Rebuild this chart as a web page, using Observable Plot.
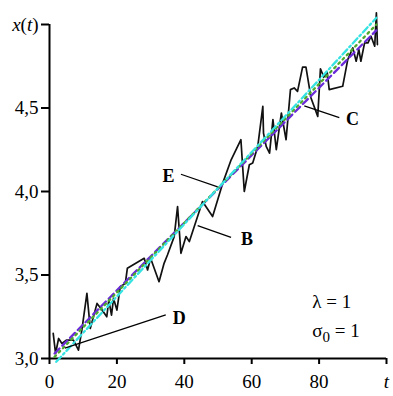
<!DOCTYPE html>
<html>
<head>
<meta charset="utf-8">
<script src="https://cdn.jsdelivr.net/npm/d3@7"></script>
<script src="https://cdn.jsdelivr.net/npm/@observablehq/plot@0.6"></script>
<style>
  html, body { margin: 0; padding: 0; background: #fff; }
  svg text { font-family: "Liberation Serif", "Times New Roman", serif !important; }
</style>
</head>
<body>
<script>
// ---- data ----
const noisyT = [1.1, 1.8, 2.7, 3.7, 5.0, 7.1, 8.6, 9.6, 11.1, 12.1, 14.1, 15.6, 17.0, 17.6, 18.4, 19.0, 20.0, 21.0, 22.5, 23.1, 25.6, 28.1, 29.1, 30.0, 32.5, 34.0, 35.0, 37.0, 38.0, 39.0, 40.5, 41.5, 45.4, 48.4, 51.4, 53.9, 56.8, 57.8, 59.3, 60.3, 61.8, 63.3, 63.5, 64.3, 65.3, 66.3, 67.3, 68.8, 70.2, 71.5, 72.6, 73.6, 75.1, 76.1, 77.6, 79.6, 80.4, 81.4, 82.4, 83.0, 87.0, 88.5, 90.0, 91.0, 91.8, 92.4, 93.5, 94.5, 95.4, 96.5, 97.0, 97.3];
const noisyX = [3.15, 3.03, 3.12, 3.09, 3.11, 3.11, 3.05, 3.17, 3.39, 3.18, 3.33, 3.29, 3.25, 3.35, 3.26, 3.36, 3.29, 3.43, 3.45, 3.54, 3.57, 3.60, 3.53, 3.60, 3.46, 3.57, 3.62, 3.73, 3.91, 3.63, 3.73, 3.70, 3.94, 3.85, 4.05, 4.19, 4.31, 4.00, 4.16, 4.17, 4.27, 4.51, 4.35, 4.27, 4.23, 4.43, 4.25, 4.47, 4.31, 4.61, 4.62, 4.60, 4.745, 4.745, 4.56, 4.45, 4.735, 4.685, 4.715, 4.61, 4.63, 4.79, 4.86, 4.78, 4.85, 4.78, 4.89, 4.89, 4.93, 4.87, 5.07, 4.88];

const purpleT = [1.5, 25, 50, 75, 97];
const purpleX = [3.03, 3.51, 4.015, 4.52, 4.965];
const greenT = [1.5, 25, 50, 75, 97];
const greenX = [3.01, 3.50, 4.02, 4.54, 5.00];
const cyanT = [2, 25, 50, 75, 97];
const cyanX = [2.98, 3.48, 4.02, 4.56, 5.04];

const xTicks = [0, 20, 40, 60, 80, 100];
const xTickLabels = ["0", "20", "40", "60", "80", "t"];
const yTicks = [3, 3.5, 4, 4.5, 5];
const yTickLabels = ["3,0", "3,5", "4,0", "4,5", "x(t)"];

const labelNames = ["E", "B", "C", "D"];
const labelT = [33.5, 56.8, 88.0, 36.6];
const labelX = [4.09, 3.715, 4.43, 3.24];
const leaderT1 = [39.0, 43.96, 75.6, 4.55];
const leaderX1 = [4.103, 3.796, 4.513, 3.062];
const leaderT2 = [49.9, 53.87, 86.0, 34.5];
const leaderX2 = [4.028, 3.725, 4.442, 3.261];

const paramTexts = ["λ = 1", "σ0 = 1"];
const paramT = [78, 78];
const paramX = [3.34, 3.163];

// ---- tables ----
const noisy = noisyT.map((t, i) => ({t, x: noisyX[i]}));
const purple = purpleT.map((t, i) => ({t, x: purpleX[i]}));
const green = greenT.map((t, i) => ({t, x: greenX[i]}));
const cyan = cyanT.map((t, i) => ({t, x: cyanX[i]}));
const labels = labelNames.map((s, i) => ({s, t: labelT[i], x: labelX[i]}));
const leaders = labelNames.map((s, i) => ({x1: leaderT1[i], y1: leaderX1[i], x2: leaderT2[i], y2: leaderX2[i]}));
const params = paramTexts.map((s, i) => ({s, t: paramT[i], x: paramX[i]}));

const serif = "Liberation Serif, Times New Roman, serif";

const chart = Plot.plot({
  width: 393,
  height: 396,
  marginLeft: 49,
  marginRight: 7,
  marginTop: 24,
  marginBottom: 38,
  style: {fontFamily: serif, fontSize: "19px", color: "#000", background: "#fff"},
  x: {domain: [0, 100]},
  y: {domain: [3, 5]},
  marks: [
    Plot.axisX({ticks: xTicks, tickFormat: (d) => xTickLabels[xTicks.indexOf(d)], tickSize: 6, tickPadding: 10, strokeWidth: 2, label: null, fontSize: 19}),
    Plot.axisY({ticks: yTicks, tickFormat: (d) => yTickLabels[yTicks.indexOf(d)], tickSize: 8, tickPadding: 3, strokeWidth: 2, label: null, fontSize: 19}),
    Plot.ruleX([0], {stroke: "#000", strokeWidth: 2}),
    Plot.ruleY([3], {stroke: "#000", strokeWidth: 2}),
    Plot.line(noisy, {x: "t", y: "x", stroke: "#111", strokeWidth: 1.7}),
    Plot.line(purple, {x: "t", y: "x", stroke: "#6a2bd8", strokeWidth: 2.3, strokeDasharray: "7,4"}),
    Plot.line(green, {x: "t", y: "x", stroke: "#4ea82e", strokeWidth: 2.3, strokeDasharray: "2,4"}),
    Plot.line(cyan, {x: "t", y: "x", stroke: "#35e3e3", strokeWidth: 2.3, strokeDasharray: "7,3,2,3"}),
    Plot.link(leaders, {x1: "x1", y1: "y1", x2: "x2", y2: "y2", stroke: "#000", strokeWidth: 1.2}),
    Plot.text(labels, {x: "t", y: "x", text: "s", textAnchor: "start", fontWeight: "bold", fontSize: 18, fill: "#000"}),
    Plot.text(params, {x: "t", y: "x", text: "s", textAnchor: "start", fontSize: 19, fill: "#000"})
  ]
});

document.body.appendChild(chart);

// typographic touches: italic variable names and subscript
d3.select(chart).selectAll("text").each(function () {
  const el = d3.select(this);
  const txt = this.textContent;
  if (txt === "x(t)") {
    el.html('<tspan font-style="italic">x</tspan>(<tspan font-style="italic">t</tspan>)');
  } else if (txt === "t") {
    el.attr("font-style", "italic");
  } else if (txt === "σ0 = 1") {
    el.html('σ<tspan dy="5" font-size="15">0</tspan><tspan dy="-5"> = 1</tspan>');
  }
});
</script>
</body>
</html>
